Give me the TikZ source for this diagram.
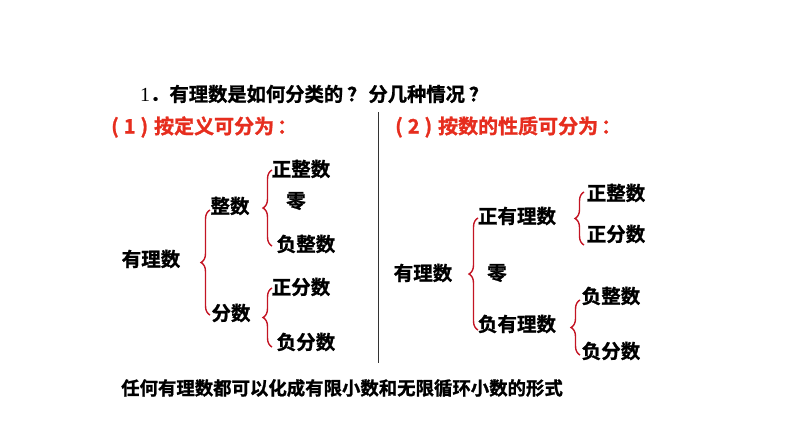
\documentclass[tikz,border=0pt]{standalone}
\usepackage{fontspec}
\newfontfamily\cjk[BoldFont={Noto Sans CJK SC Bold}, BoldFeatures={FakeBold=1.2}]{Noto Sans CJK SC}
\newfontfamily\serif{Liberation Serif}
\usetikzlibrary{decorations.pathreplacing}
\definecolor{headred}{RGB}{230,45,30}
\definecolor{bracered}{RGB}{195,20,35}
\newcommand{\qm}{\hspace{4pt}？\hspace{2pt}}
\tikzset{
	lbl/.style={font=\cjk\bfseries\fontsize{19.5}{22}\selectfont, inner sep=0pt},
	head/.style={font=\cjk\bfseries\fontsize{20}{22}\selectfont, text=headred, anchor=west, inner sep=0pt},
	brc/.style={draw=bracered, line width=1.4pt, decorate, decoration={brace, amplitude=9pt}},
}
\begin{document}
\begin{tikzpicture}[x=1pt, y=-1pt]
		\useasboundingbox (0,0) rectangle (794,447);

		% Titoli
		\node[anchor=west, inner sep=0pt] (titolo) at (140,94){\serif\fontsize{20}{22}\selectfont 1{\cjk\bfseries\fontsize{19.3}{22}\selectfont ．有理数是如何分类的\qm 分几种情况\qm}};
		\node[head] (defin) at (111,127){(\hspace{5pt}1\hspace{5pt})\hspace{6pt}按定义可分为\hspace{3pt}：};
		\node[head] (propr) at (395,127){(\hspace{5pt}2\hspace{5pt})\hspace{6pt}按数的性质可分为\hspace{3pt}：};
		\coordinate (sepA) at (378,112);
		\coordinate (sepB) at (378,363);
		\draw[line width=0.8pt, black!80] (sepA) -- (sepB);

		% Per definizione
		\node[lbl] (q1) at (151,259){有理数};
		\node[lbl] (int1) at (230,206){整数};
		\node[lbl] (fra1) at (231,313){分数};
		\node[lbl] (pint1) at (301,169){正整数};
		\node[lbl] (zero1) at (296,201){零};
		\node[lbl] (nint1) at (306,244){负整数};
		\node[lbl] (pfra1) at (301,287){正分数};
		\node[lbl] (nfra1) at (306,342){负分数};

		\coordinate (b1t) at (210,210);
		\coordinate (b1b) at (210,315);
		\coordinate (b2t) at (272,170);
		\coordinate (b2b) at (272,246);
		\coordinate (b3t) at (272,288);
		\coordinate (b3b) at (272,347);
		\draw[brc] (b1b) -- (b1t);
		\draw[brc] (b2b) -- (b2t);
		\draw[brc] (b3b) -- (b3t);

		% Per proprieta
		\node[lbl] (q2) at (423,273){有理数};
		\node[lbl] (pos2) at (517,216){正有理数};
		\node[lbl] (zero2) at (497,273){零};
		\node[lbl] (neg2) at (517,324){负有理数};
		\node[lbl] (pint2) at (616,193){正整数};
		\node[lbl] (pfra2) at (616,234){正分数};
		\node[lbl] (nint2) at (611,296){负整数};
		\node[lbl] (nfra2) at (611,351){负分数};

		\coordinate (c1t) at (478,218);
		\coordinate (c1b) at (478,330);
		\coordinate (c2t) at (584,192);
		\coordinate (c2b) at (584,245);
		\coordinate (c3t) at (580,300);
		\coordinate (c3b) at (580,355);
		\draw[brc] (c1b) -- (c1t);
		\draw[brc] (c2b) -- (c2t);
		\draw[brc] (c3b) -- (c3t);

		% Conclusione
		\node[lbl, anchor=west, font=\cjk\bfseries\fontsize{18.4}{21}\selectfont] (concl) at (121,388){任何有理数都可以化成有限小数和无限循环小数的形式};
	\end{tikzpicture}
\end{document}
